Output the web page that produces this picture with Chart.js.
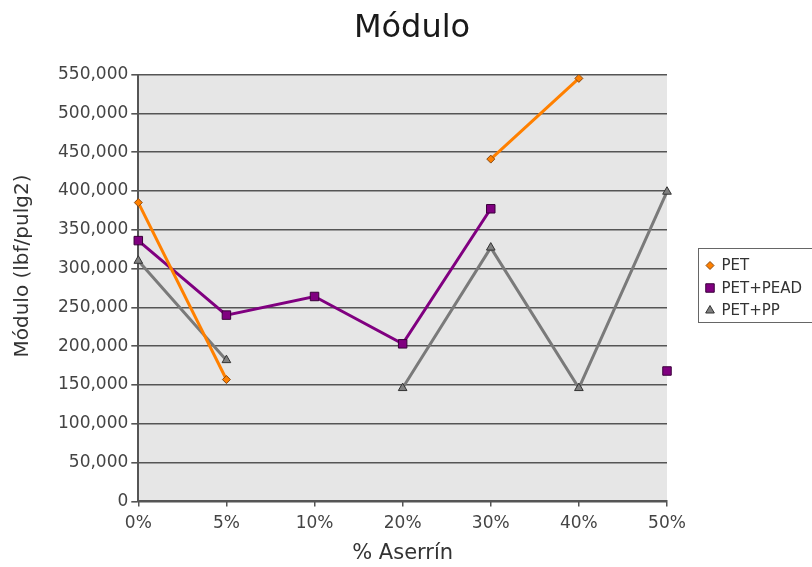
<!DOCTYPE html>
<html lang="es">
<head>
  <meta charset="UTF-8" />
  <title>Módulo</title>
  <script src="https://cdn.jsdelivr.net/npm/chart.js"></script>
  <style>
    html, body { margin: 0; padding: 0; background: #fff; }
    #grafico { display: block; }
  </style>
</head>
<body>
  <canvas id="grafico" width="812" height="567"></canvas>

  <script>
    const categorias = ["0%", "5%", "10%", "20%", "30%", "40%", "50%"];
    const pet = [385000, 157000, null, null, 441000, 545000, null];
    const petPead = [336000, 240000, 264000, 203000, 377000, null, 168000];
    const petPp = [310000, 182000, null, 146000, 327000, 146000, 399000];
    const nombres = ["PET", "PET+PEAD", "PET+PP"];
    const titulo = "Módulo";
    const tituloY = "Módulo (lbf/pulg2)";

    const fuente = "'DejaVu Sans', sans-serif";

    // fondo gris del area de trazado
    const fondoArea = {
      id: "fondoArea",
      beforeDraw(chart) {
        const { ctx, chartArea: a } = chart;
        ctx.save();
        ctx.fillStyle = "#e6e6e6";
        ctx.fillRect(a.left, a.top, a.right - a.left, a.bottom - a.top);
        ctx.restore();
      }
    };

    // titulos + leyenda con recuadro a la derecha
    const leyenda = {
      id: "leyenda",
      afterDraw(chart) {
        const ctx = chart.ctx;
        ctx.save();
        ctx.font = "32px " + fuente;
        ctx.fillStyle = "#1a1a1a";
        ctx.textAlign = "center";
        ctx.textBaseline = "middle";
        ctx.fillText(titulo, 412, 29);

        ctx.save();
        ctx.translate(23, 266);
        ctx.rotate(-Math.PI / 2);
        ctx.font = "20px " + fuente;
        ctx.fillStyle = "#333";
        ctx.fillText(tituloY, 0, 0);
        ctx.restore();

        const x0 = 698.5, y0 = 248.5;
        ctx.textAlign = "left";
        ctx.strokeStyle = "#666";
        ctx.lineWidth = 1;
        ctx.strokeRect(x0, y0, 130, 74);
        ctx.font = "15px " + fuente;
        chart.data.datasets.forEach((ds, i) => {
          const y = y0 + 17 + i * 22.5;
          ctx.fillStyle = ds.pointBackgroundColor;
          ctx.strokeStyle = ds.pointBorderColor;
          ctx.lineWidth = 1;
          Chart.helpers.drawPoint(ctx, {
            pointStyle: ds.pointStyle,
            radius: ds.pointRadius,
            borderWidth: 1
          }, x0 + 11.5, y);
          ctx.fillStyle = "#333";
          ctx.fillText(ds.label, x0 + 23, y + 1);
        });
        ctx.restore();
      }
    };

    new Chart(document.getElementById("grafico"), {
      type: "line",
      data: {
        labels: categorias,
        datasets: [
          {
            label: nombres[0],
            data: pet,
            borderColor: "#ff8000",
            borderWidth: 3,
            pointStyle: "rectRot",
            pointRadius: 4,
            pointBackgroundColor: "#ff8000",
            pointBorderColor: "#8a4a10",
            pointBorderWidth: 1
          },
          {
            label: nombres[1],
            data: petPead,
            borderColor: "#800080",
            borderWidth: 3,
            pointStyle: "rect",
            pointRadius: 6,
            pointBackgroundColor: "#800080",
            pointBorderColor: "#3a003a",
            pointBorderWidth: 1
          },
          {
            label: nombres[2],
            data: petPp,
            borderColor: "#7a7a7a",
            borderWidth: 3,
            pointStyle: "triangle",
            pointRadius: 5,
            pointBackgroundColor: "#808080",
            pointBorderColor: "#333",
            pointBorderWidth: 1
          }
        ]
      },
      options: {
        responsive: false,
        animation: false,
        layout: { padding: { left: 55, right: 145, top: 74.5, bottom: 1 } },
        plugins: {
          legend: { display: false },
          tooltip: { enabled: false },
          title: { display: false }
        },
        scales: {
          x: {
            offset: false,
            grid: {
              drawOnChartArea: false,
              drawTicks: true,
              tickLength: 5,
              color: "#555",
              lineWidth: 1.5
            },
            border: { display: true, color: "#555", width: 2 },
            ticks: {
              color: "#444",
              padding: 7,
              maxRotation: 0,
              font: { family: fuente, size: 17 }
            },
            title: {
              display: true,
              text: "% Aserrín",
              color: "#333",
              font: { family: fuente, size: 21 },
              padding: { top: 0, bottom: 0 }
            }
          },
          y: {
            min: 0,
            max: 550000,
            grid: {
              color: "#555",
              lineWidth: 1.6,
              tickLength: 7
            },
            border: { display: true, color: "#555", width: 2 },
            ticks: {
              stepSize: 50000,
              color: "#444",
              padding: 3,
              font: { family: fuente, size: 17 },
              callback: v => v.toLocaleString("en-US")
            },
            title: { display: false }
          }
        }
      },
      plugins: [fondoArea, leyenda]
    });
  </script>
</body>
</html>
